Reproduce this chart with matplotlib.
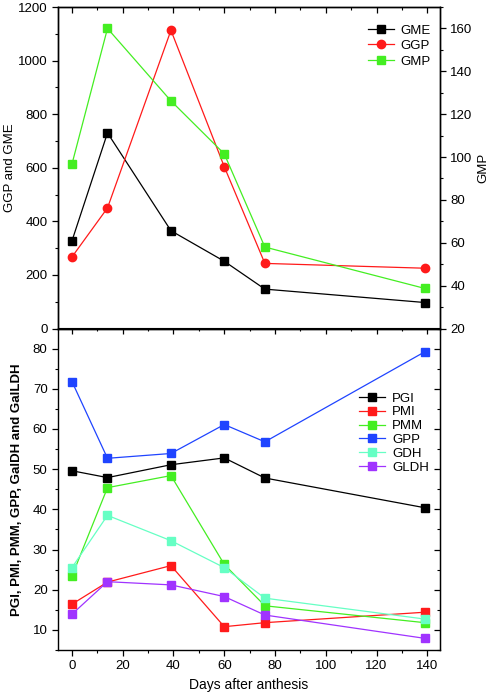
import numpy as np
import matplotlib.pyplot as plt
from matplotlib.ticker import MultipleLocator

plt.rcParams['font.family'] = ['Liberation Sans', 'DejaVu Sans']
plt.rcParams['font.size'] = 9

# days after anthesis
days = [0, 14, 39, 60, 76, 139]

# top panel
gme = [327, 730, 365, 251, 147, 97]
ggp = [267, 450, 1113, 604, 243, 225]
gmp = [96.7, 160, 126.2, 101.5, 58, 38.7]

# bottom panel
pgi = [49.6, 47.9, 51.1, 52.8, 47.8, 40.4]
pmi = [16.4, 21.9, 26.0, 10.8, 11.8, 14.4]
pmm = [23.4, 45.4, 48.4, 26.3, 16.0, 11.8]
gpp = [71.8, 52.7, 53.9, 61.1, 56.8, 79.2]
gdh = [25.5, 38.5, 32.2, 25.5, 17.9, 12.7]
gldh = [13.9, 22.0, 21.2, 18.3, 13.7, 7.9]

c_black = '#000000'
c_red = '#ff1a1a'
c_green = '#44ee22'
c_blue = '#1f44ff'
c_aqua = '#66ffc4'
c_purple = '#a033ff'

fig = plt.figure(figsize=(4.91, 6.95), dpi=100)
W, H = 491.0, 695.0
x0, x1 = 58 / W, 440 / W
ax1 = fig.add_axes([x0, 1 - 328.5 / H, x1 - x0, (328.5 - 7) / H])
ax2 = fig.add_axes([x0, 1 - 650 / H, x1 - x0, (650 - 328.5) / H])
ax1r = ax1.twinx()

lw = 0.9
ms = 5.5

# top panel
l1, = ax1.plot(days, gme, '-s', color=c_black, lw=lw, ms=ms, label='GME')
l2, = ax1.plot(days, ggp, '-o', color=c_red, lw=lw, ms=ms + 0.5, label='GGP')
l3, = ax1r.plot(days, gmp, '-s', color=c_green, lw=lw, ms=ms, label='GMP')
ax1.set_ylim(0, 1200)
ax1r.set_ylim(20, 170)
ax1.set_xlim(-5.5, 145)
ax1.set_ylabel('GGP and GME', fontsize=9.5)
ax1r.set_ylabel('GMP', fontsize=9.5)
ax1.yaxis.set_label_coords(-0.11, 0.5)
ax1r.yaxis.set_label_coords(1.097, 0.5)
ax1.yaxis.set_major_locator(MultipleLocator(200))
ax1.yaxis.set_minor_locator(MultipleLocator(100))
ax1r.yaxis.set_major_locator(MultipleLocator(20))
ax1r.yaxis.set_minor_locator(MultipleLocator(10))
ax1.xaxis.set_major_locator(MultipleLocator(20))
ax1.xaxis.set_minor_locator(MultipleLocator(10))
ax1.tick_params(axis='x', which='both', top=True, bottom=False, direction='in',
                labelbottom=False)
ax1.tick_params(axis='y', which='both', direction='out')
ax1r.tick_params(axis='y', which='both', direction='out')
ax1.legend(handles=[l1, l2, l3], loc='upper right', bbox_to_anchor=(1.0, 0.975),
           frameon=False, fontsize=9.5, handlelength=2.0, handletextpad=0.5,
           labelspacing=0.25, borderpad=0.2)

# bottom panel
series = [(pgi, c_black, 'PGI'), (pmi, c_red, 'PMI'), (pmm, c_green, 'PMM'),
          (gpp, c_blue, 'GPP'), (gdh, c_aqua, 'GDH'), (gldh, c_purple, 'GLDH')]
for vals, col, lab in series:
    ax2.plot(days, vals, '-s', color=col, lw=lw, ms=ms, label=lab)
ax2.set_xlim(-5.5, 145)
ax2.set_ylim(5, 85)
ax2.xaxis.set_major_locator(MultipleLocator(20))
ax2.xaxis.set_minor_locator(MultipleLocator(10))
ax2.yaxis.set_major_locator(MultipleLocator(10))
ax2.yaxis.set_minor_locator(MultipleLocator(5))
ax2.tick_params(axis='both', which='both', direction='out', top=False, right=False)
ax2.set_xlabel('Days after anthesis', fontsize=10)
ax2.set_ylabel('PGI, PMI, PMM, GPP, GalDH and GalLDH', fontsize=9.5,
               fontweight='bold')
ax2.yaxis.set_label_coords(-0.092, 0.5)
ax2.legend(loc='upper right', bbox_to_anchor=(0.995, 0.83), frameon=False,
           fontsize=9.5, handlelength=2.0, handletextpad=0.5,
           labelspacing=0.12, borderpad=0.2)

# inward ticks on the top and right edges of the lower panel
ax2t = ax2.secondary_xaxis('top')
ax2t.xaxis.set_major_locator(MultipleLocator(20))
ax2t.xaxis.set_minor_locator(MultipleLocator(10))
ax2t.tick_params(axis='x', which='both', direction='in', labeltop=False)
ax2r = ax2.secondary_yaxis('right')
ax2r.yaxis.set_major_locator(MultipleLocator(10))
ax2r.yaxis.set_minor_locator(MultipleLocator(5))
ax2r.tick_params(axis='y', which='both', direction='in', labelright=False)

for a in (ax1, ax1r, ax2):
    a.tick_params(which='major', length=4, width=0.9, labelsize=9.5)
    a.tick_params(which='minor', length=2.5, width=0.8)
    for s in a.spines.values():
        s.set_linewidth(1.0)
for a in (ax2t, ax2r):
    a.tick_params(which='major', length=4, width=0.9)
    a.tick_params(which='minor', length=2.5, width=0.8)

fig.savefig('out.png', dpi=100)
